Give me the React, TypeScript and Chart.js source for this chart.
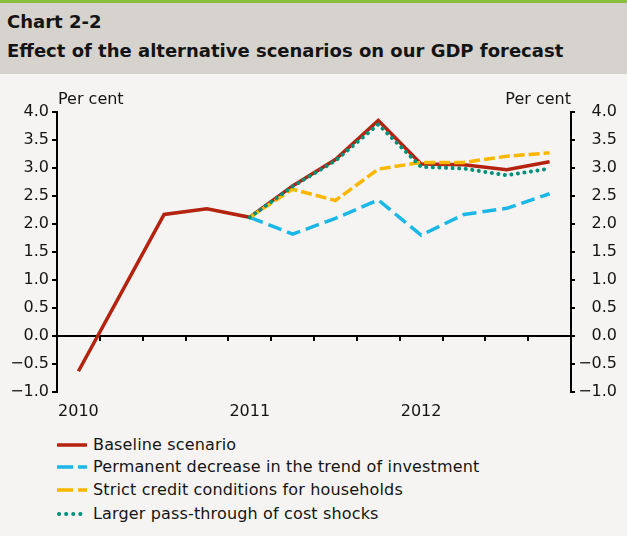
import React, { useEffect, useRef } from 'react';
import { Chart, registerables } from 'chart.js';
Chart.register(...registerables);

const quarters = ['2010', '', '', '', '2011', '', '', '', '2012', '', '', ''];
const baseline = [-0.63, 0.77, 2.17, 2.27, 2.12, 2.68, 3.15, 3.85, 3.07, 3.06, 2.97, 3.11];
const investment = [null, null, null, null, 2.12, 1.82, 2.1, 2.43, 1.8, 2.17, 2.28, 2.54];
const credit = [null, null, null, null, 2.12, 2.62, 2.42, 2.98, 3.1, 3.1, 3.21, 3.27];
const passThrough = [null, null, null, null, 2.12, 2.67, 3.13, 3.78, 3.02, 2.99, 2.87, 2.99];
const seriesNames = [
  'Baseline scenario',
  'Permanent decrease in the trend of investment',
  'Strict credit conditions for households',
  'Larger pass-through of cost shocks',
];
const yMin = -1;
const yMax = 4;
const yStep = 0.5;
const unitLabel = 'Per cent';

const RED = '#b3230f';
const BLUE = '#1bb7e6';
const YELLOW = '#f9b700';
const TEAL = '#00907a';
const TXT = '#141414';
const FONT = 'DejaVu Sans';

const fmt = (v: any) => {
  const s = Number(v).toFixed(1);
  return s.replace('-', '\u2212');
};

const decor = {
  id: 'decor',
  beforeDatasetsDraw(chart: any) {
    const { ctx, chartArea, scales } = chart;
    const y0 = scales.y.getPixelForValue(0);
    const xs = scales.x;
    ctx.save();
    ctx.strokeStyle = '#000';
    ctx.lineWidth = 2;
    ctx.beginPath();
    ctx.moveTo(chartArea.left, y0);
    ctx.lineTo(chartArea.right, y0);
    ctx.stroke();
    ctx.beginPath();
    for (let i = 1; i < quarters.length; i++) {
      const px = Math.round((xs.getPixelForValue(i - 1) + xs.getPixelForValue(i)) / 2);
      ctx.moveTo(px, y0);
      ctx.lineTo(px, y0 + 5);
    }
    ctx.stroke();
    ctx.fillStyle = TXT;
    ctx.font = `16px "${FONT}"`;
    ctx.textBaseline = 'alphabetic';
    ctx.textAlign = 'left';
    ctx.fillText(unitLabel, chartArea.left + 1, chartArea.top - 8);
    ctx.textAlign = 'right';
    ctx.fillText(unitLabel, chartArea.right, chartArea.top - 8);
    ctx.restore();
  },
};

function LegendRow({ idx, top }: { idx: number; top: number }) {
  const sample = () => {
    if (idx === 0) return <line x1={0} y1={6} x2={30} y2={6} stroke={RED} strokeWidth={3.5} />;
    if (idx === 1)
      return <line x1={0} y1={6} x2={30} y2={6} stroke={BLUE} strokeWidth={3.5} strokeDasharray="16 5" />;
    if (idx === 2)
      return <line x1={0} y1={6} x2={30} y2={6} stroke={YELLOW} strokeWidth={3.5} strokeDasharray="16 5" />;
    return (
      <line x1={2} y1={6} x2={30} y2={6} stroke={TEAL} strokeWidth={4} strokeLinecap="round" strokeDasharray="0.1 7" />
    );
  };
  return (
    <div style={{ position: 'absolute', left: 0, top, height: 23, width: 600 }}>
      <svg width={32} height={12} style={{ position: 'absolute', left: 57, top: 6 }}>
        {sample()}
      </svg>
      <div
        style={{
          position: 'absolute',
          left: 93,
          top: 0,
          lineHeight: '23px',
          fontSize: 16,
          fontFamily: FONT,
          color: TXT,
          whiteSpace: 'nowrap',
          letterSpacing: '0.15px',
        }}
      >
        {seriesNames[idx]}
      </div>
    </div>
  );
}

export default function App() {
  const ref = useRef<HTMLCanvasElement | null>(null);
  useEffect(() => {
    document.body.style.margin = '0';
    const tickFont = { family: FONT, size: 16 };
    const chart = new Chart(ref.current as HTMLCanvasElement, {
      type: 'line',
      data: {
        labels: quarters,
        datasets: [
          { label: seriesNames[0], data: baseline, borderColor: RED, borderWidth: 3.5, pointRadius: 0, order: 3, yAxisID: 'y' },
          { label: seriesNames[1], data: investment, borderColor: BLUE, borderWidth: 3.5, borderDash: [14, 6], pointRadius: 0, order: 2, yAxisID: 'y' },
          { label: seriesNames[2], data: credit, borderColor: YELLOW, borderWidth: 3.5, borderDash: [11, 4], pointRadius: 0, order: 1, yAxisID: 'y' },
          { label: seriesNames[3], data: passThrough, borderColor: TEAL, borderWidth: 4, borderDash: [0.1, 6.5], borderCapStyle: 'round', pointRadius: 0, order: 0, yAxisID: 'y' },
        ] as any,
      },
      options: {
        animation: false,
        responsive: false,
        maintainAspectRatio: false,
        layout: { padding: { top: 32, right: 10, left: 0, bottom: 0 } },
        plugins: { legend: { display: false }, tooltip: { enabled: false } },
        scales: {
          x: {
            type: 'category',
            offset: true,
            grid: { display: false },
            border: { display: false },
            ticks: { autoSkip: false, maxRotation: 0, minRotation: 0, padding: 2, color: TXT, font: tickFont },
            afterFit: (s: any) => { s.height = 28; },
          },
          y: {
            position: 'left',
            min: yMin,
            max: yMax,
            ticks: { stepSize: yStep, callback: fmt, padding: 3, color: TXT, font: tickFont },
            grid: { drawOnChartArea: false, tickLength: 5, color: '#000', lineWidth: 2 },
            border: { color: '#000', width: 2 },
            afterFit: (s: any) => { s.width = 57; },
          },
          y2: {
            position: 'right',
            min: yMin,
            max: yMax,
            ticks: { stepSize: yStep, callback: fmt, padding: 3, color: TXT, font: tickFont, crossAlign: 'far' },
            grid: { drawOnChartArea: false, tickLength: 4, color: '#000', lineWidth: 2 },
            border: { color: '#000', width: 2 },
            afterFit: (s: any) => { s.width = 46; },
          },
        },
      } as any,
      plugins: [decor],
    });
    return () => chart.destroy();
  }, []);

  return (
    <div style={{ position: 'relative', width: 627, height: 536, background: '#f5f4f2', overflow: 'hidden' }}>
      <div style={{ position: 'absolute', left: 0, top: 0, width: 627, height: 3, background: '#86bf3c' }} />
      <div style={{ position: 'absolute', left: 0, top: 3, width: 627, height: 71, background: '#d6d2ce' }} />
      <div style={{ position: 'absolute', left: 7, top: 11, fontFamily: FONT, fontWeight: 'bold', fontSize: 18, color: TXT, lineHeight: '22px' }}>
        Chart 2-2
      </div>
      <div style={{ position: 'absolute', left: 7, top: 40, fontFamily: FONT, fontWeight: 'bold', fontSize: 18, color: TXT, lineHeight: '22px', whiteSpace: 'nowrap' }}>
        Effect of the alternative scenarios on our GDP forecast
      </div>
      <canvas ref={ref} width={627} height={340} style={{ position: 'absolute', left: 0, top: 80, width: 627, height: 340 }} />
      <LegendRow idx={0} top={433} />
      <LegendRow idx={1} top={455} />
      <LegendRow idx={2} top={478} />
      <LegendRow idx={3} top={502} />
    </div>
  );
}
